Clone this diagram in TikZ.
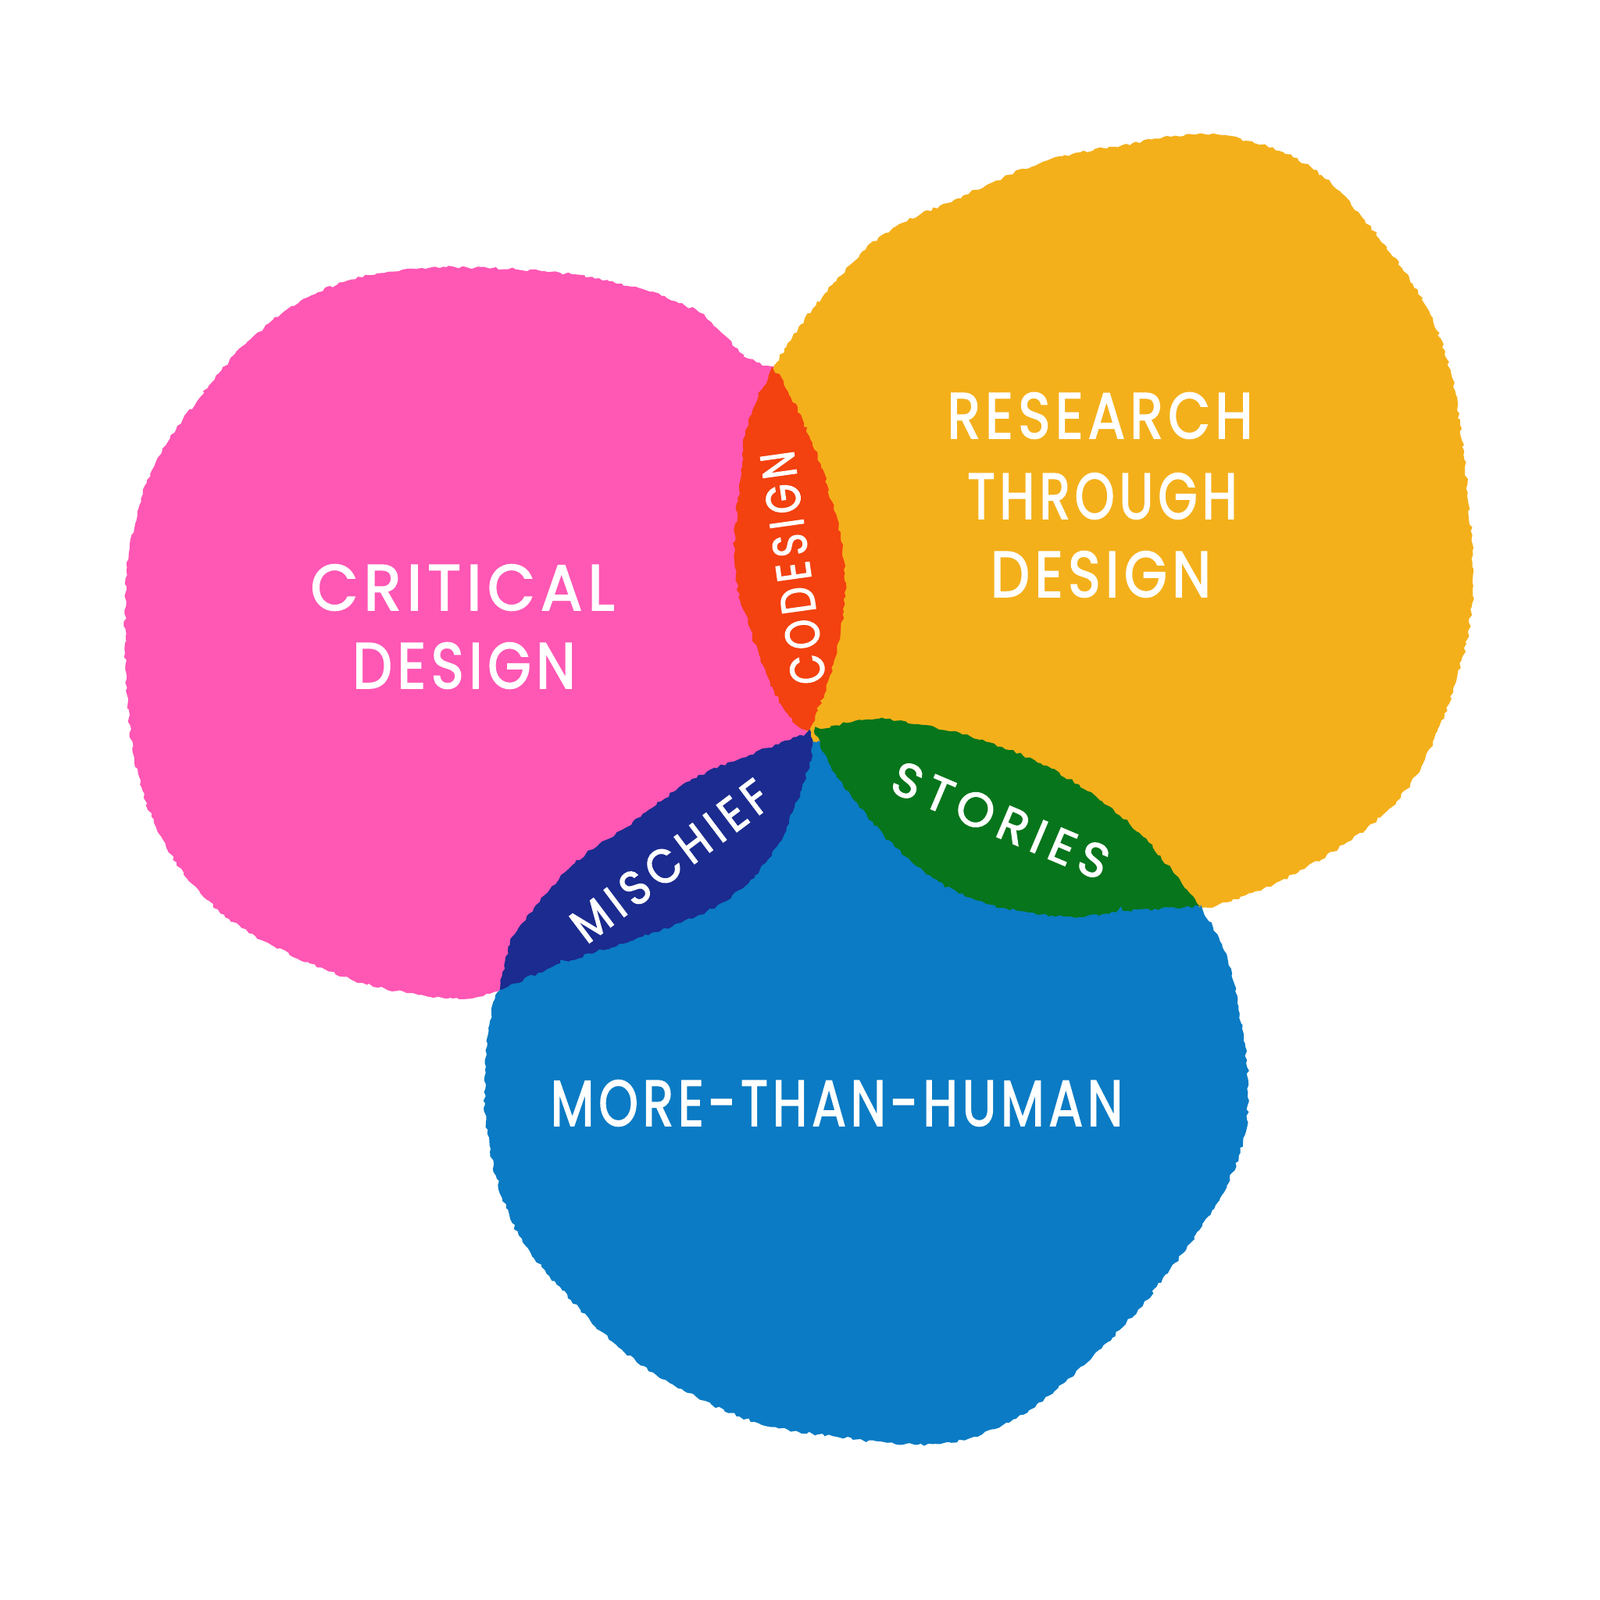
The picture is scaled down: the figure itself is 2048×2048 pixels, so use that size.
\documentclass[tikz,border=0pt]{standalone}
\usepackage{fontspec}
\usepackage{graphicx}
\usetikzlibrary{decorations.pathmorphing}
\newfontfamily\hand{Poppins}[LetterSpace=9, FakeBold=2.2]
\newfontfamily\handwide{Poppins}[LetterSpace=15, FakeBold=2.2]
\definecolor{pinkc}{HTML}{FF57B4}
\definecolor{orangec}{HTML}{F4B01B}
\definecolor{bluec}{HTML}{0A7BC4}
\definecolor{redc}{HTML}{F3410F}
\definecolor{navyc}{HTML}{1B2B8F}
\definecolor{greenc}{HTML}{07751B}
\newcommand\fitw[2]{\resizebox{#1}{\height}{#2}}
\begin{document}
\begin{tikzpicture}[x=0.01cm,y=-0.01cm,
  rough/.style={decorate, decoration={random steps, segment length=1.4pt, amplitude=0.55pt}},
  bigl/.style={text=white, inner sep=0pt, font=\hand\fontsize{23.5}{23.5}\selectfont},
  smalll/.style={text=white, inner sep=0pt, font=\handwide\fontsize{17.5}{17.5}\selectfont}]
\useasboundingbox (0,0) rectangle (2048,2048);
\fill[white] (0,0) rectangle (2048,2048);

% pink blob
\fill[pinkc, rough]
  plot[smooth, tension=0.6] coordinates {(990,473) (952,454) (895,400) (809,367) (694,347) (522,344) (407,374) (321,434) (252,514) (195,601) (166,702) (160,836) (172,970) (206,1070) (264,1151) (350,1211) (464,1258) (579,1278) (640,1267)}
  -- plot[smooth, tension=0.6] coordinates {(760,1225) (900,1130) (1010,1010) (1070,870) (1085,720) (1060,600) (1020,520)} -- cycle;

% orange blob
\fill[orangec, rough]
  plot[smooth, tension=0.6] coordinates {(990,473) (1014,432) (1067,362) (1134,298) (1221,256) (1335,207) (1436,186) (1543,172) (1637,193) (1704,235) (1771,312) (1824,390) (1858,481) (1878,621) (1885,762) (1865,867) (1824,972) (1771,1042) (1670,1112) (1570,1155) (1536,1162)}
  -- plot[smooth, tension=0.6] coordinates {(1420,1215) (1250,1200) (1120,1100) (1050,980) (1027,900) (1017,800) (1009,700) (992,600)} -- cycle;

% blue blob
\fill[bluec, rough]
  plot[smooth, tension=0.6] coordinates {(1536,1162) (1560,1200) (1577,1246) (1590,1317) (1598,1389) (1591,1461) (1562,1533) (1513,1605) (1457,1676) (1387,1748) (1317,1805) (1247,1839) (1176,1849) (1071,1839) (966,1820) (861,1772) (791,1724) (720,1652) (664,1581) (636,1509) (622,1437) (622,1365) (629,1294) (640,1267)}
  -- plot[smooth, tension=0.6] coordinates {(667,1219) (733,1167) (800,1132) (883,1093) (950,1052) (1000,1005) (1040,950) (1110,983) (1175,1018) (1254,1051) (1332,1073) (1410,1098) (1463,1118) (1502,1138)} -- cycle;

% codesign lens
\fill[redc, rough]
  plot[smooth, tension=0.7] coordinates {(990,473) (960,533) (947,617) (940,717) (953,783) (983,867) (1010,917) (1035,935)}
  -- plot[smooth, tension=0.7] coordinates {(1047,910) (1067,850) (1080,783) (1080,717) (1067,650) (1040,567) (1000,483)} -- cycle;

% mischief lens
\fill[navyc, rough]
  plot[smooth, tension=0.7] coordinates {(1038,937) (950,970) (883,1000) (800,1060) (733,1107) (667,1183) (650,1217) (640,1267)}
  -- plot[smooth, tension=0.7] coordinates {(717,1233) (817,1200) (917,1160) (983,1100) (1017,1033) (1040,967)} -- cycle;

% stories lens
\fill[greenc, rough]
  plot[smooth, tension=0.7] coordinates {(1042,936) (1110,921) (1175,927) (1254,947) (1332,977) (1410,1025) (1463,1071) (1502,1117) (1536,1160)}
  -- plot[smooth, tension=0.7] coordinates {(1437,1166) (1371,1173) (1306,1166) (1241,1149) (1175,1110) (1110,1045) (1060,975)} -- cycle;

% labels
\node[bigl] (crit1) at (592,752) {\fitw{3.89cm}{CRITICAL}};
\node[bigl] (crit2) at (594,852) {\fitw{2.85cm}{DESIGN}};
\node[bigl] (rtd1) at (1408,532) {\fitw{3.91cm}{RESEARCH}};
\node[bigl] (rtd2) at (1411,635) {\fitw{3.45cm}{THROUGH}};
\node[bigl] (rtd3) at (1409,735) {\fitw{2.82cm}{DESIGN}};
\node[bigl] (mth) at (1071,1412) {\fitw{7.32cm}{MORE-THAN-HUMAN}};
\node[smalll, rotate=98] (codesign) at (1015,727) {\fitw{3.0cm}{CODESIGN}};
\node[smalll, rotate=37] (mischief) at (858,1102) {\fitw{3.0cm}{MISCHIEF}};
\node[smalll, rotate=-23] (stories) at (1281,1050) {\fitw{2.95cm}{STORIES}};
\end{tikzpicture}
\end{document}
